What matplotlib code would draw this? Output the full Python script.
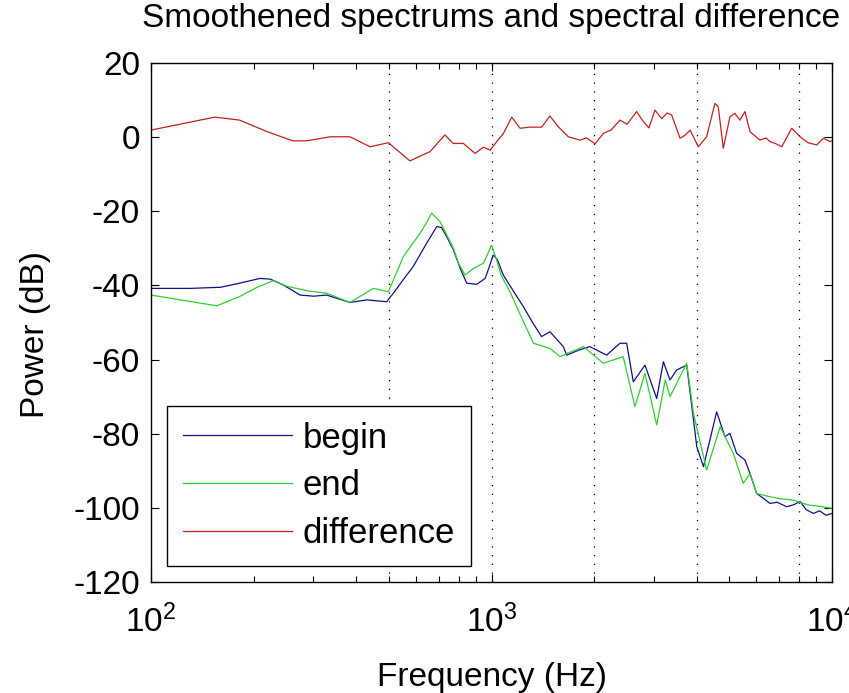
import matplotlib
matplotlib.use("Agg")
import matplotlib.pyplot as plt
import numpy as np

plt.rcParams['font.family'] = ['Liberation Sans', 'DejaVu Sans']
plt.rcParams['axes.unicode_minus'] = False

# ---- data ----
begin_freq = [100, 130, 160, 182, 209, 224, 245, 274, 300, 328, 384, 430, 492, 515, 550,
              589, 645, 691, 714, 740, 773, 810, 846, 905, 958, 985, 1011, 1040, 1083,
              1150, 1240, 1320, 1403, 1485, 1625, 1663, 1800, 1944, 2178, 2384, 2494,
              2609, 2823, 3056, 3197, 3344, 3498, 3744, 4008, 4193, 4584, 4850, 5015,
              5247, 5551, 5742, 6006, 6300, 6572, 6900, 7366, 7700, 8060, 8400, 8815,
              9200, 9600, 10000]
begin_db = [-40.8, -40.8, -40.5, -39.4, -38.1, -38.3, -39.9, -42.6, -42.9, -42.6, -44.6,
            -43.9, -44.4, -42.1, -38.5, -34.9, -28.6, -24.1, -24.4, -27.0, -30.4, -35.5,
            -39.4, -39.7, -38.1, -35.0, -31.8, -33.0, -37.2, -41.0, -45.7, -50.0, -53.8,
            -52.5, -56.5, -58.8, -57.5, -56.5, -58.8, -55.6, -55.6, -66.0, -61.5, -70.5,
            -60.6, -65.5, -62.8, -61.5, -83.5, -88.9, -74.1, -80.8, -79.9, -85.3, -87.1,
            -90.7, -96.1, -97.5, -98.8, -98.5, -99.7, -99.2, -98.3, -100.5, -101.5,
            -100.8, -102.0, -101.5]

end_freq = [100, 122, 156, 182, 205, 229, 250, 290, 328, 384, 450, 498, 551, 617, 645,
            667, 706, 740, 773, 800, 836, 885, 947, 975, 1000, 1030, 1070, 1133, 1230,
            1328, 1485, 1589, 1863, 2130, 2436, 2638, 2823, 3056, 3238, 3344, 3744, 3919,
            4283, 4693, 5130, 5487, 5742, 6006, 6572, 7000, 7690, 8100, 8600, 9200, 10000]
end_db = [-42.6, -43.9, -45.5, -43.0, -40.5, -38.7, -40.2, -41.5, -42.1, -44.6, -40.8,
          -41.7, -32.2, -25.9, -23.0, -20.5, -22.8, -26.5, -30.0, -34.0, -37.2, -35.4,
          -34.0, -31.5, -29.1, -32.5, -37.5, -41.7, -49.0, -55.6, -57.0, -59.2, -56.5,
          -61.0, -59.2, -72.7, -63.7, -77.6, -65.5, -70.0, -61.0, -74.5, -89.8, -78.1,
          -85.3, -93.4, -90.7, -96.1, -97.0, -97.5, -97.9, -98.6, -99.3, -99.6, -100.1]

diff_freq = [100, 154, 182, 219, 261, 286, 336, 384, 440, 498, 576, 660, 730, 772, 827,
             895, 947, 991, 1040, 1084, 1147, 1213, 1298, 1404, 1484, 1571, 1681, 1820,
             1900, 2014, 2130, 2250, 2384, 2500, 2600, 2668, 2790, 2900, 3020, 3160, 3280,
             3380, 3578, 3700, 3831, 4050, 4283, 4531, 4634, 4795, 5015, 5187, 5366,
             5551, 5742, 6143, 6400, 6572, 6850, 7118, 7617, 8060, 8500, 9020, 9430,
             9860, 10000]
diff_db = [1.9, 5.4, 4.6, 1.5, -1.0, -1.0, 0.1, 0.1, -2.6, -1.5, -6.4, -3.9, 0.6, -1.7,
           -1.7, -4.4, -2.7, -3.5, -1.0, 1.0, 5.4, 2.4, 2.7, 2.7, 5.7, 2.8, 0.1, -0.8,
           -0.2, -1.8, 1.0, 2.0, 4.6, 3.5, 5.5, 6.9, 4.2, 2.5, 7.3, 5.0, 6.5, 6.0, -0.3,
           0.5, 1.9, -2.6, 0.1, 9.1, 8.2, -3.0, 5.5, 6.4, 4.6, 6.9, 1.5, -0.8, -0.2,
           -1.2, -1.8, -2.6, 2.4, 0.1, -1.5, -2.1, -0.3, -1.2, -1.0]

marker_freqs = [500, 1000, 2000, 4000, 8000]
y_ticks = [-120, -100, -80, -60, -40, -20, 0, 20]

# ---- figure ----
fig = plt.figure(figsize=(8.49, 6.93), dpi=100)
ax = fig.add_axes([151 / 849, 1 - 582 / 693, 681 / 849, 519 / 693])

for f in marker_freqs:
    ax.plot([f, f], [-120, 20], color='black', linestyle=(0, (1, 6)), linewidth=0.9)

ax.plot(begin_freq, begin_db, color='#10108a', linewidth=0.9, label='begin')
ax.plot(end_freq, end_db, color='#2fcf2f', linewidth=0.9, label='end')
ax.plot(diff_freq, diff_db, color='#c42020', linewidth=0.9, label='difference')

ax.set_xscale('log')
ax.set_xlim(100, 10000)
ax.set_ylim(-120, 20)
ax.set_yticks(y_ticks)

ax.tick_params(which='both', direction='in', top=True, right=True, labelsize=24)
ax.tick_params(axis='y', pad=8)
ax.tick_params(axis='x', pad=16)
ax.tick_params(which='major', length=6, width=0.8)
ax.tick_params(which='minor', length=4, width=0.8)
for s in ax.spines.values():
    s.set_linewidth(1.0)

ax.set_title('Smoothened spectrums and spectral difference', fontsize=24, pad=26)
ax.set_xlabel('Frequency (Hz)', fontsize=24, labelpad=17)
ax.set_ylabel('Power (dB)', fontsize=24)
ax.yaxis.set_label_coords(-0.1474, 0.476)

leg = ax.legend(loc='lower left', bbox_to_anchor=(16 / 681, 16 / 519), borderaxespad=0,
                fontsize=25, handlelength=3.14, handletextpad=0.32, labelspacing=0.43,
                fancybox=False, framealpha=1, edgecolor='black', borderpad=0.45)
leg.get_frame().set_linewidth(1.0)

fig.savefig('out.png', dpi=100)
